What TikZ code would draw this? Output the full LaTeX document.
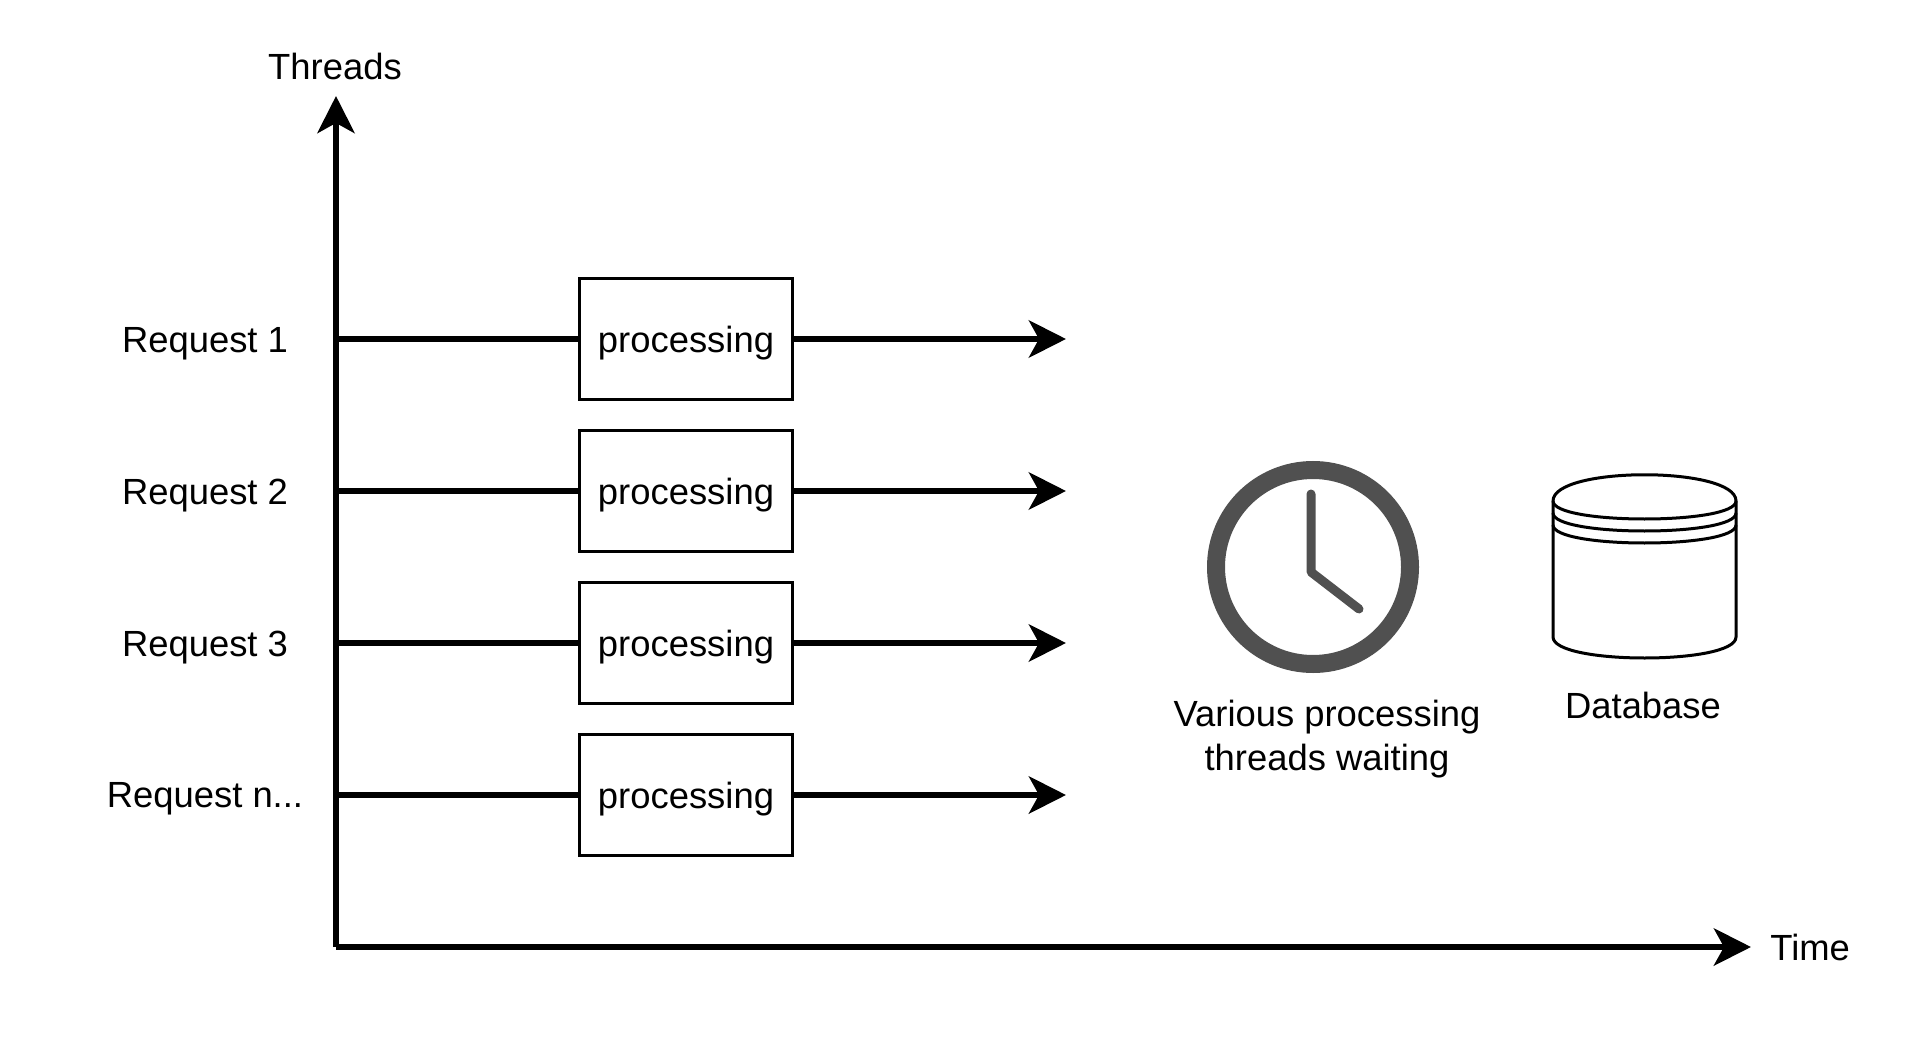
\documentclass[tikz,border=0pt]{standalone}
\usepackage{fontspec}
\setmainfont{Liberation Sans}
\usepackage{tikz}
\usetikzlibrary{arrows.meta}

\tikzset{
  label/.style={font=\fontsize{18.2pt}{21pt}\selectfont, inner sep=0pt, align=center},
  procbox/.style={draw, line width=1.5pt, minimum width=106.5pt, minimum height=60.5pt, inner sep=0pt, outer sep=0pt, text height=13.6pt, text depth=0pt, font=\fontsize{18.2pt}{21pt}\selectfont},
  flow/.style={line width=3.3pt, -{Stealth[length=18.5pt,width=18.5pt,inset=5pt]}},
  plainflow/.style={line width=3.3pt},
  clockline/.style={color=clockgray, line width=4.5pt, line cap=round, line join=round},
  dbline/.style={line width=1.5pt}
}
\definecolor{clockgray}{HTML}{505050}

\begin{document}
\begin{tikzpicture}[x=0.5pt,y=-0.5pt]
\useasboundingbox (0,0) rectangle (1921,1037);

\coordinate (origin) at (336,947);
\coordinate (threadtip) at (336,96);
\coordinate (timetip) at (1751,947);
\draw[flow] (origin) -- (threadtip);
\draw[flow] (origin) -- (timetip);
\node[label] (threads) at (335,66) {Threads};
\node[label,anchor=west] (time) at (1770,947) {Time};

\node[procbox] (box1) at (686,339) {processing};
\node[procbox] (box2) at (686,491) {processing};
\node[procbox] (box3) at (686,643) {processing};
\node[procbox] (box4) at (686,795) {processing};

\node[label] (req1) at (205,344) {Request 1};
\node[label] (req2) at (205,496) {Request 2};
\node[label] (req3) at (205,648) {Request 3};
\node[label] (req4) at (205,799) {Request n...};

\coordinate (start1) at (336,339);
\coordinate (start2) at (336,491);
\coordinate (start3) at (336,643);
\coordinate (start4) at (336,795);
\coordinate (end1) at (1066,339);
\coordinate (end2) at (1066,491);
\coordinate (end3) at (1066,643);
\coordinate (end4) at (1066,795);

\draw[plainflow] (start1) -- (box1);
\draw[plainflow] (start2) -- (box2);
\draw[plainflow] (start3) -- (box3);
\draw[plainflow] (start4) -- (box4);
\draw[flow] (box1) -- (end1);
\draw[flow] (box2) -- (end2);
\draw[flow] (box3) -- (end3);
\draw[flow] (box4) -- (end4);

\draw[color=clockgray, line width=9pt] (1313,567) circle [radius=97];
\draw[clockline] (1311,494) -- (1311,572) -- (1359,609);
\node[label] (waiting) at (1327,739) {Various processing\\[0.6pt]threads waiting};

\draw[dbline] (1553,501) .. controls (1553,466) and (1736,466) .. (1736,501) -- (1736,637)
  .. controls (1736,665) and (1553,665) .. (1553,637) -- cycle;
\draw[dbline] (1553,501) .. controls (1553,525) and (1736,525) .. (1736,501);
\draw[dbline] (1553,513) .. controls (1553,537) and (1736,537) .. (1736,513);
\draw[dbline] (1553,525) .. controls (1553,549) and (1736,549) .. (1736,525);
\node[label] (database) at (1643,705) {Database};
\end{tikzpicture}
\end{document}
